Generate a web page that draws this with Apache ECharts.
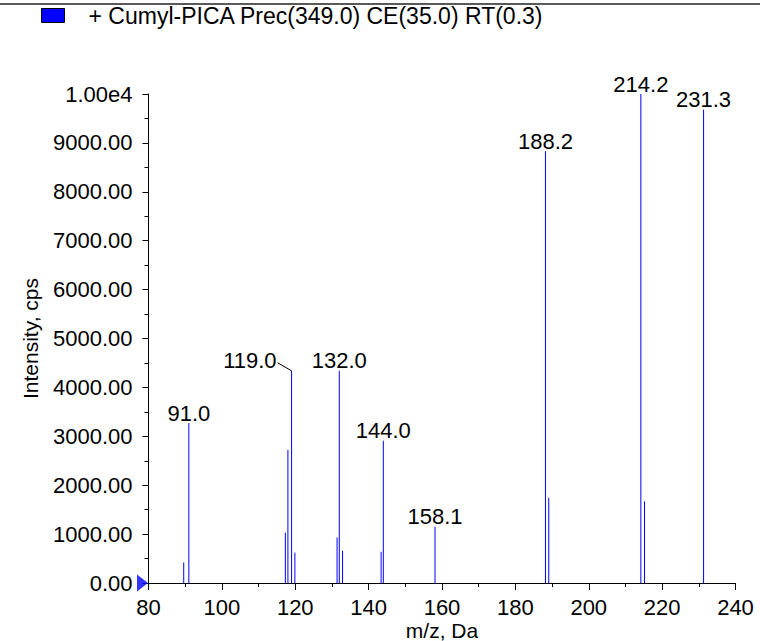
<!DOCTYPE html>
<html>
<head>
<meta charset="utf-8">
<script src="https://cdn.jsdelivr.net/npm/echarts@6/dist/echarts.min.js"></script>
<style>
html,body{margin:0;padding:0;background:#fff;}
#chart{width:760px;height:641px;}
</style>
</head>
<body>
<div id="chart"></div>
<script>
// ---- data ----
const seriesName = '+ Cumyl-PICA Prec(349.0) CE(35.0) RT(0.3)';
const mz        = [89.6, 91.0, 117.3, 118.0, 119.0, 119.9, 131.4, 132.0, 132.9, 143.4, 144.0, 158.1, 188.2, 189.1, 214.2, 215.2, 231.3];
const intensity = [420, 3270, 1030, 2720, 4340, 620, 930, 4340, 660, 640, 2910, 1150, 8830, 1740, 10000, 1670, 9680];
const labeledMz = [91.0, 119.0, 132.0, 144.0, 158.1, 188.2, 214.2, 231.3];
const leaderLabelMz = [119.0];
const xMin = 80, xMax = 240, xStep = 20;
const yMin = 0, yMax = 10000, yStep = 1000;
const xTitle = 'm/z, Da';
const yTitle = 'Intensity, cps';

const FONT = 'Liberation Sans, Arial, sans-serif';
const BLUE = '#0000ff';

const peaks = mz.map((m, i) => [m, intensity[i]]);

const chart = echarts.init(document.getElementById('chart'), null, {renderer: 'svg'});
chart.setOption({
  animation: false,
  backgroundColor: '#fff',
  grid: {left: 148.5, right: 24.5, top: 94, bottom: 58, containLabel: false, outerBoundsMode: 'none'},
  legend: {
    show: true,
    left: 41,
    top: 4,
    padding: 0,
    itemWidth: 23,
    itemHeight: 14,
    icon: 'rect',
    itemStyle: {borderColor: '#000', borderWidth: 1},
    textStyle: {fontFamily: FONT, fontSize: 23, color: '#000', padding: [0, 0, 0, 19]},
    data: [{name: seriesName, icon: 'rect'}]
  },
  graphic: [{
    type: 'line',
    shape: {x1: 0, y1: 4, x2: 760, y2: 4},
    style: {stroke: '#222', lineWidth: 1.5}
  }],
  xAxis: {
    type: 'value',
    min: xMin, max: xMax, interval: xStep,
    name: xTitle,
    nameLocation: 'middle',
    nameGap: 36,
    nameMoveOverlap: false,
    nameTextStyle: {fontFamily: FONT, fontSize: 21, color: '#000', lineHeight: 22},
    axisLine: {show: true, onZero: false, lineStyle: {color: '#000', width: 1}},
    axisTick: {show: true, inside: false, length: 7, lineStyle: {color: '#000'}},
    minorTick: {show: true, splitNumber: 2, length: 4, lineStyle: {color: '#000'}},
    axisLabel: {fontFamily: FONT, fontSize: 22, color: '#000', margin: 13},
    splitLine: {show: false},
    minorSplitLine: {show: false}
  },
  yAxis: {
    type: 'value',
    min: yMin, max: yMax, interval: yStep,
    name: yTitle,
    nameLocation: 'middle',
    nameGap: 108,
    nameMoveOverlap: false,
    nameTextStyle: {fontFamily: FONT, fontSize: 21, color: '#000'},
    axisLine: {show: true, onZero: false, lineStyle: {color: '#000', width: 1}},
    axisTick: {show: true, inside: false, length: 6, lineStyle: {color: '#000'}},
    minorTick: {show: true, splitNumber: 2, length: 4, lineStyle: {color: '#000'}},
    axisLabel: {
      fontFamily: FONT, fontSize: 22, color: '#000', margin: 16,
      formatter: v => (v >= 10000 ? (v / 10000).toFixed(2) + 'e4' : v.toFixed(2))
    },
    splitLine: {show: false},
    minorSplitLine: {show: false}
  },
  series: [
    {
      name: seriesName,
      type: 'custom',
      itemStyle: {color: BLUE},
      clip: false,
      data: peaks,
      renderItem: function (params, api) {
        const x = api.value(0), y = api.value(1);
        const top = api.coord([x, y]);
        const base = api.coord([x, 0]);
        const children = [{
          type: 'line',
          shape: {x1: top[0], y1: base[1], x2: top[0], y2: top[1]},
          style: {stroke: BLUE, lineWidth: 1}
        }];
        if (labeledMz.indexOf(x) >= 0) {
          const txt = x.toFixed(1);
          if (leaderLabelMz.indexOf(x) >= 0) {
            children.push({
              type: 'text',
              x: top[0] - 15, y: top[1] + 1,
              style: {text: txt, fill: '#000', font: '22px ' + FONT, align: 'right', verticalAlign: 'bottom'}
            });
            children.push({
              type: 'line',
              shape: {x1: top[0] - 14, y1: top[1] - 8, x2: top[0], y2: top[1]},
              style: {stroke: '#000', lineWidth: 1}
            });
          } else {
            children.push({
              type: 'text',
              x: top[0], y: top[1] + 1,
              style: {text: txt, fill: '#000', font: '22px ' + FONT, align: 'center', verticalAlign: 'bottom'}
            });
          }
        }
        return {type: 'group', children: children};
      }
    },
    {
      name: 'origin',
      type: 'scatter',
      silent: true,
      clip: false,
      symbol: 'triangle',
      symbolSize: [17, 11],
      symbolRotate: -90,
      symbolOffset: [-6, 0],
      itemStyle: {color: BLUE},
      data: [[xMin, yMin]],
      z: 5
    }
  ]
});
</script>
</body>
</html>
